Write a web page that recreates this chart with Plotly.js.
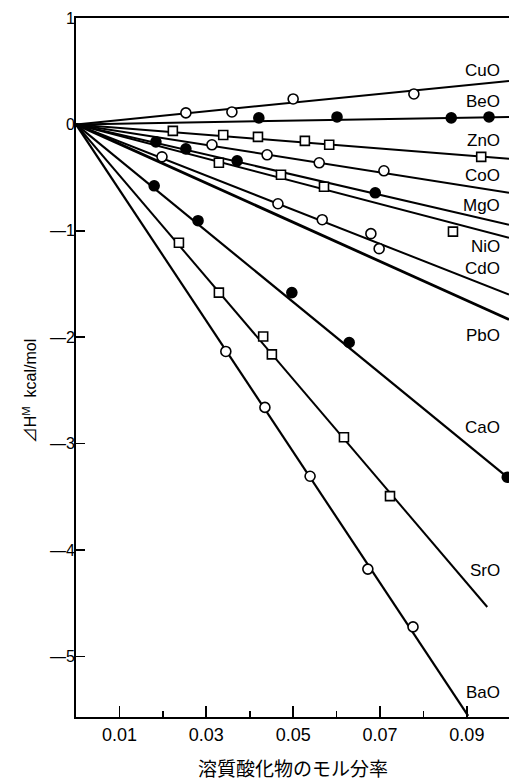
<!DOCTYPE html>
<html>
<head>
<meta charset="utf-8">
<script src="https://cdn.plot.ly/plotly-3.0.1.min.js"></script>
<style>html,body{margin:0;padding:0;background:#fff;}#chart{width:509px;height:782px;}</style>
</head>
<body>
<div id="chart"></div>
<script>
// ---- data ----
const oxides = ['CuO','BeO','ZnO','CoO','MgO','NiO','CdO','PbO','CaO','SrO','BaO'];
const markerKind = ['open-circle','filled-circle','open-square','open-circle','filled-circle','open-square','open-circle','none','filled-circle','open-square','open-circle'];

// fitted line end points (lines start at the origin)
const lineEndX = [0.0997, 0.0997, 0.0997, 0.0997, 0.0997, 0.0997, 0.0997, 0.0997, 0.0993, 0.0947, 0.0903];
const lineEndY = [0.408, 0.070, -0.324, -0.643, -0.943, -1.065, -1.599, -1.834, -3.316, -4.536, -5.559];

// measured points
const CuO_x = [0.0253, 0.0359, 0.0500, 0.0778];
const CuO_y = [0.108, 0.117, 0.239, 0.286];
const BeO_x = [0.0421, 0.0601, 0.0864, 0.0951];
const BeO_y = [0.061, 0.070, 0.061, 0.070];
const ZnO_x = [0.0223, 0.0339, 0.0419, 0.0527, 0.0583, 0.0933];
const ZnO_y = [-0.061, -0.099, -0.117, -0.155, -0.192, -0.305];
const CoO_x = [0.0313, 0.0440, 0.0560, 0.0709];
const CoO_y = [-0.192, -0.286, -0.361, -0.436];
const MgO_x = [0.0184, 0.0253, 0.0371, 0.0689];
const MgO_y = [-0.164, -0.230, -0.342, -0.643];
const NiO_x = [0.0329, 0.0472, 0.0571, 0.0868];
const NiO_y = [-0.361, -0.473, -0.586, -1.008];
const CdO_x = [0.0198, 0.0465, 0.0567, 0.0679, 0.0698];
const CdO_y = [-0.305, -0.746, -0.896, -1.027, -1.168];
const PbO_x = [];
const PbO_y = [];
const CaO_x = [0.0180, 0.0281, 0.0497, 0.0629, 0.0993];
const CaO_y = [-0.577, -0.905, -1.581, -2.050, -3.316];
const SrO_x = [0.0237, 0.0329, 0.0431, 0.0451, 0.0617, 0.0723];
const SrO_y = [-1.112, -1.581, -1.993, -2.162, -2.941, -3.494];
const BaO_x = [0.0345, 0.0435, 0.0539, 0.0672, 0.0776];
const BaO_y = [-2.134, -2.660, -3.307, -4.180, -4.723];

const pointsX = [CuO_x, BeO_x, ZnO_x, CoO_x, MgO_x, NiO_x, CdO_x, PbO_x, CaO_x, SrO_x, BaO_x];
const pointsY = [CuO_y, BeO_y, ZnO_y, CoO_y, MgO_y, NiO_y, CdO_y, PbO_y, CaO_y, SrO_y, BaO_y];

const xTickVals = [0.01, 0.03, 0.05, 0.07, 0.09];
const xTickText = ['0.01', '0.03', '0.05', '0.07', '0.09'];
const yTickVals = [1, 0, -1, -2, -3, -4, -5];
const yTickText = ['1', '0', '\u20141', '\u20142', '\u20143', '\u20144', '\u20145'];

const xTitle = '溶質酸化物のモル分率';
const yTitle = '\u22BFH<sup>M</sup>  kcal/mol';

// ---- layout / styling ----
const W = 509, H = 782;
const M = {l: 76, r: 0, t: 17.5, b: 65};
const plotW = W - M.l - M.r, plotH = H - M.t - M.b;
const labelRightPx = 502;
const labelCenterPx = [70, 101, 140, 175, 205, 246, 268, 335, 427, 570, 692];
const lineWidths = [2, 2, 2, 2, 2, 2, 2, 2.8, 2.2, 2, 2.2];

const traces = [];
oxides.forEach((name, i) => {
  traces.push({
    x: [0, lineEndX[i]], y: [0, lineEndY[i]],
    mode: 'lines', type: 'scatter', showlegend: false, hoverinfo: 'skip',
    line: {color: '#000', width: lineWidths[i]}
  });
});
oxides.forEach((name, i) => {
  const k = markerKind[i];
  if (k === 'none') return;
  const isSq = k.indexOf('square') >= 0;
  const filled = k.indexOf('filled') === 0;
  traces.push({
    x: pointsX[i], y: pointsY[i], name: name,
    mode: 'markers', type: 'scatter', showlegend: false,
    marker: {
      symbol: isSq ? 'square' : 'circle',
      size: isSq ? 9 : 10,
      color: filled ? '#000' : '#fff',
      line: {color: '#000', width: 1.6}
    },
    cliponaxis: false
  });
});

const annotations = oxides.map((name, i) => ({
  xref: 'paper', yref: 'paper',
  x: (labelRightPx - M.l) / plotW, y: (H - M.b - labelCenterPx[i]) / plotH,
  xanchor: 'right', yanchor: 'middle', showarrow: false,
  text: name, font: {family: 'Liberation Sans, Arial, sans-serif', size: 17, color: '#000'}
}));
annotations.push({
  xref: 'paper', yref: 'paper',
  x: (30 - M.l) / plotW, y: (H - M.b - 391) / plotH,
  xanchor: 'center', yanchor: 'middle', showarrow: false, textangle: -90,
  text: yTitle, font: {family: 'Liberation Sans, Noto Sans CJK JP, sans-serif', size: 16, color: '#000'}
});
annotations.push({
  xref: 'paper', yref: 'paper',
  x: (293 - M.l) / plotW, y: (H - M.b - 768) / plotH,
  xanchor: 'center', yanchor: 'middle', showarrow: false,
  text: xTitle, font: {family: 'Noto Sans CJK JP, sans-serif', size: 19, color: '#000'}
});

const layout = {
  width: W, height: H,
  margin: M,
  paper_bgcolor: '#fff', plot_bgcolor: '#fff',
  showlegend: false,
  font: {family: 'Liberation Sans, Arial, sans-serif', size: 17, color: '#000'},
  xaxis: {
    range: [0, 0.0997], showgrid: false, zeroline: false,
    showline: true, linecolor: '#000', linewidth: 2, mirror: true,
    tickmode: 'array', tickvals: xTickVals, ticktext: xTickText,
    ticks: 'inside', ticklen: 11, tickwidth: 1.6, tickcolor: '#000',
    minor: {tickmode: 'linear', tick0: 0, dtick: 0.01, ticks: 'inside', ticklen: 6, tickwidth: 1.6, tickcolor: '#000'},
    tickfont: {size: 18}, automargin: false
  },
  yaxis: {
    range: [-5.57, 1], showgrid: false, zeroline: false,
    showline: true, linecolor: '#000', linewidth: 2, mirror: false,
    tickmode: 'array', tickvals: yTickVals, ticktext: yTickText,
    ticks: 'inside', ticklen: 9, tickwidth: 1.6, tickcolor: '#000',
    ticklabelstandoff: -4,
    tickfont: {size: 16}, automargin: false
  },
  annotations: annotations
};

Plotly.newPlot('chart', traces, layout, {staticPlot: true, displayModeBar: false});
</script>
</body>
</html>
